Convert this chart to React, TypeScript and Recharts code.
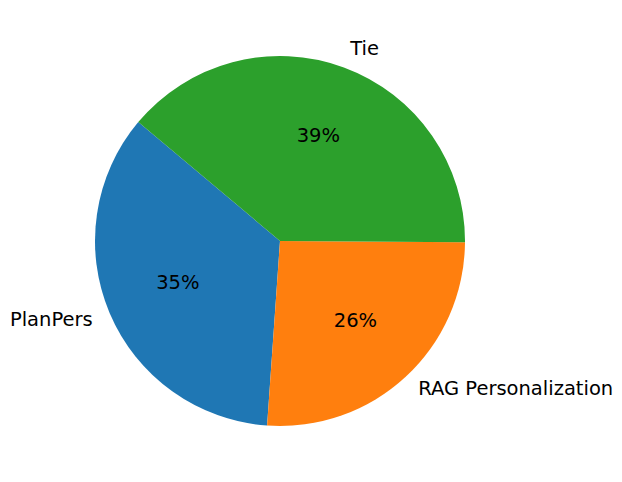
import { PieChart, Pie, Cell } from "recharts";

const categories = ["PlanPers", "RAG Personalization", "Tie"];
const shares = [35, 26, 39];
const colors = ["#1f77b4", "#ff7f0e", "#2ca02c"];

const data = categories.map((name, i) => ({ name, value: shares[i] }));

const RAD = Math.PI / 180;
const FONT = "DejaVu Sans, sans-serif";

function renderLabel(props: any) {
  const { cx, cy, midAngle, outerRadius, percent, name } = props;
  const cos = Math.cos(-midAngle * RAD);
  const sin = Math.sin(-midAngle * RAD);
  const lx = cx + outerRadius * 1.1 * cos;
  const ly = cy + outerRadius * 1.1 * sin - 1.5;
  const px = cx + outerRadius * 0.6 * cos;
  const py = cy + outerRadius * 0.6 * sin - 1.5;
  return (
    <g>
      <text
        x={lx}
        y={ly}
        textAnchor={cos >= 0 ? "start" : "end"}
        dominantBaseline="central"
        fontSize={19.5}
        fontFamily={FONT}
        fill="#000"
      >
        {name}
      </text>
      <text
        x={px}
        y={py}
        textAnchor="middle"
        dominantBaseline="central"
        fontSize={19.5}
        fontFamily={FONT}
        fill="#000"
      >
        {`${Math.round(percent * 100)}%`}
      </text>
    </g>
  );
}

export default function App() {
  return (
    <div
      style={{
        position: "absolute",
        left: 0,
        top: 0,
        width: 622,
        height: 482,
        background: "#fff",
      }}
    >
      <PieChart
        width={622}
        height={482}
        margin={{ top: 0, right: 0, bottom: 0, left: 0 }}
      >
        <Pie
          data={data}
          dataKey="value"
          nameKey="name"
          cx={280}
          cy={241}
          outerRadius={185}
          startAngle={140}
          endAngle={500}
          stroke="none"
          label={renderLabel}
          labelLine={false}
          isAnimationActive={false}
        >
          {data.map((d, i) => (
            <Cell key={d.name} fill={colors[i]} />
          ))}
        </Pie>
      </PieChart>
    </div>
  );
}
